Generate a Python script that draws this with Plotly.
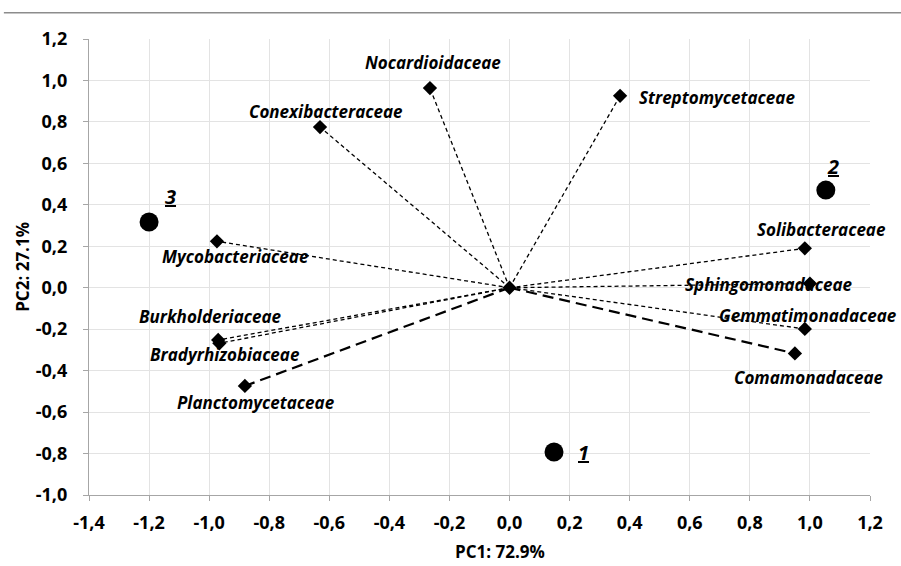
import plotly.graph_objects as go

# Loadings (diamonds)
families = ["Nocardioidaceae", "Conexibacteraceae", "Streptomycetaceae", "Mycobacteriaceae",
            "Solibacteraceae", "Sphingomonadaceae", "Gemmatimonadaceae", "Comamonadaceae",
            "Burkholderiaceae", "Bradyrhizobiaceae", "Planctomycetaceae"]
pc1 = [-0.265, -0.631, 0.368, -0.974, 0.983, 1.00, 0.983, 0.95, -0.97, -0.966, -0.881]
pc2 = [0.963, 0.775, 0.926, 0.224, 0.19, 0.02, -0.199, -0.317, -0.252, -0.268, -0.474]
heavy = [False, False, False, False, False, False, False, True, False, False, True]

# Samples (circles)
samples = ["1", "2", "3"]
s_pc1 = [0.148, 1.053, -1.20]
s_pc2 = [-0.793, 0.471, 0.317]

x_ticks = [-1.4, -1.2, -1.0, -0.8, -0.6, -0.4, -0.2, 0.0, 0.2, 0.4, 0.6, 0.8, 1.0, 1.2]
y_ticks = [-1.0, -0.8, -0.6, -0.4, -0.2, 0.0, 0.2, 0.4, 0.6, 0.8, 1.0, 1.2]

def fmt(v):
    return "<b>" + f"{v:.1f}".replace(".", ",") + "</b>"

# label offsets in px (style)
lab_off = {
    "Nocardioidaceae": (3, 26), "Conexibacteraceae": (6, 16), "Streptomycetaceae": (97, -2),
    "Mycobacteriaceae": (19, -15), "Solibacteraceae": (17, 19), "Sphingomonadaceae": (-41, -1),
    "Gemmatimonadaceae": (3, 13), "Comamonadaceae": (14, -24), "Burkholderiaceae": (-8, 23),
    "Bradyrhizobiaceae": (6, -11), "Planctomycetaceae": (11, -17),
}
samp_off = {"1": (29, 0), "2": (7, 24), "3": (21, 26)}

fig = go.Figure()
FONT = "Open Sans"

for f, x, y, h in zip(families, pc1, pc2, heavy):
    fig.add_trace(go.Scatter(
        x=[0, x], y=[0, y], mode="lines",
        line=dict(color="black", width=2.2 if h else 1.3, dash="11px,6px" if h else "4px,3px"),
        hoverinfo="skip", showlegend=False))

fig.add_trace(go.Scatter(
    x=[0] + pc1, y=[0] + pc2, mode="markers",
    marker=dict(symbol="diamond", size=11, color="black"),
    showlegend=False))

fig.add_trace(go.Scatter(
    x=s_pc1, y=s_pc2, mode="markers",
    marker=dict(symbol="circle", size=19, color="black"),
    showlegend=False))

annotations = []
for f, x, y in zip(families, pc1, pc2):
    dx, dy = lab_off[f]
    annotations.append(dict(x=x, y=y, xref="x", yref="y", text=f"<b><i>{f}</i></b>",
                            showarrow=False, xshift=dx, yshift=dy,
                            font=dict(family=FONT, size=17, color="black")))
for s, x, y in zip(samples, s_pc1, s_pc2):
    dx, dy = samp_off[s]
    annotations.append(dict(x=x, y=y, xref="x", yref="y", text=f"<b><i><u>{s}</u></i></b>",
                            showarrow=False, xshift=dx, yshift=dy,
                            font=dict(family=FONT, size=20, color="black")))

annotations.append(dict(x=0.526, y=-0.123, xref="paper", yref="paper", text="<b>PC1: 72.9%</b>",
                        showarrow=False, yanchor="middle",
                        font=dict(family=FONT, size=17, color="black")))
annotations.append(dict(x=-0.086, y=0.5, xref="paper", yref="paper", text="<b>PC2: 27.1%</b>",
                        showarrow=False, textangle=-90, xanchor="center",
                        font=dict(family=FONT, size=17, color="black")))

fig.update_layout(
    width=901, height=566,
    margin=dict(l=89, r=31, t=39, b=71),
    paper_bgcolor="white", plot_bgcolor="white",
    annotations=annotations,
    shapes=[dict(type="line", xref="paper", yref="paper", x0=-0.109, x1=1.04, y0=1.0577, y1=1.0577,
                 line=dict(color="#8c8c8c", width=1.5))],
    xaxis=dict(range=[-1.4, 1.2], tickvals=x_ticks, ticktext=[fmt(v) for v in x_ticks],
               showgrid=True, gridcolor="#e3e3e3", gridwidth=1, zeroline=False,
               showline=True, linecolor="#a6a6a6", linewidth=1.2,
               ticks="outside", ticklen=5, tickcolor="#a6a6a6", ticklabelstandoff=6,
               tickfont=dict(family=FONT, size=18, color="black"), fixedrange=True),
    yaxis=dict(range=[-1.0, 1.2], tickvals=y_ticks, ticktext=[fmt(v) for v in y_ticks],
               showgrid=True, gridcolor="#e3e3e3", gridwidth=1, zeroline=False,
               showline=True, linecolor="#a6a6a6", linewidth=1.2,
               ticks="outside", ticklen=5, tickcolor="#a6a6a6", ticklabelstandoff=12,
               tickfont=dict(family=FONT, size=18, color="black"), fixedrange=True),
)

fig.write_html("out.html")
